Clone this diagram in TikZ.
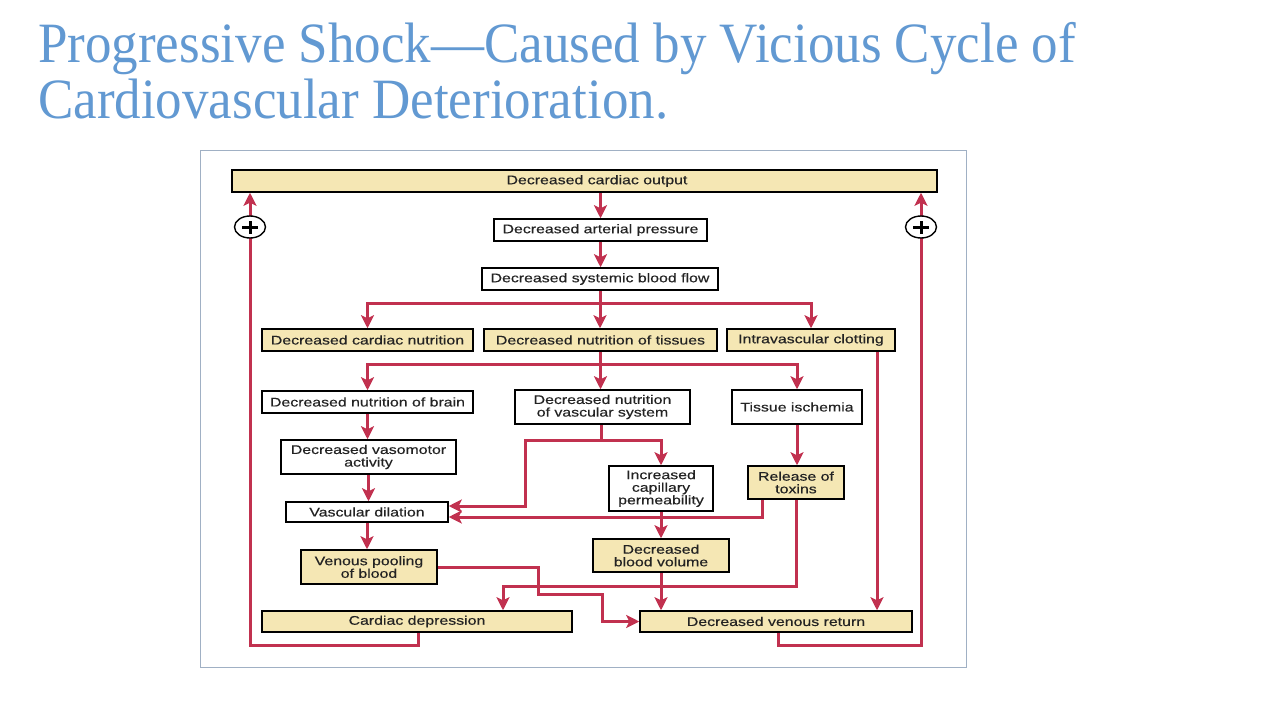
\documentclass[tikz,border=0pt]{standalone}
\usepackage{fontspec}
\usetikzlibrary{arrows.meta,shapes.geometric,backgrounds}
\newfontfamily\titlefont[FakeStretch=0.93]{Liberation Serif}
\newfontfamily\diagfont[FakeStretch=1.27,FakeBold=0.35]{Liberation Sans}
\definecolor{titleblue}{RGB}{98,153,210}
\definecolor{arrred}{RGB}{193,49,79}
\definecolor{boxtan}{RGB}{245,231,180}
\definecolor{framec}{RGB}{160,176,196}
\definecolor{inkc}{RGB}{35,35,35}
\begin{document}
\begin{tikzpicture}[x=1pt,y=-1pt,
 box/.style={draw=black, line width=1.5pt, fill=white, inner sep=0pt, align=center, text=inkc, font=\diagfont\fontsize{12.5}{12.6}\selectfont},
 tanbox/.style={box, fill=boxtan},
 link/.style={draw=arrred, line width=3pt},
 arr/.style={link, -{Stealth[length=13pt,width=13pt,inset=3pt]}},
 ttl/.style={anchor=base west, inner sep=0pt, text=titleblue, font=\titlefont\fontsize{57}{57}\selectfont},
 plusc/.style={ellipse, draw=black, line width=1.4pt, fill=white, minimum width=31pt, minimum height=22pt, inner sep=0pt},
 plusbar/.style={draw=black, line width=3pt},
]
\useasboundingbox (0,0) rectangle (1280,720);

% title
\node[ttl] (t1) at (38,62) {Progressive Shock—Caused by Vicious Cycle of};
\node[ttl] (t2) at (38,118) {Cardiovascular Deterioration.};

% frame
\draw[framec, line width=1pt] (200,150) rectangle (966,667);

% boxes
\node[tanbox, minimum width=705pt, minimum height=22pt] (co) at (584.5,181) {\hspace*{25pt}Decreased cardiac output};
\node[box, minimum width=213pt, minimum height=22pt] (ap) at (600.5,230) {Decreased arterial pressure};
\node[box, minimum width=236pt, minimum height=22pt] (sf) at (600,279) {Decreased systemic blood flow};
\node[tanbox, minimum width=211pt, minimum height=22pt] (cn) at (367.5,340) {Decreased cardiac nutrition};
\node[tanbox, minimum width=233pt, minimum height=22pt] (nt) at (600.5,340) {Decreased nutrition of tissues};
\node[tanbox, minimum width=168pt, minimum height=22pt] (ic) at (811,340) {Intravascular clotting};
\node[box, minimum width=211pt, minimum height=22pt] (nb) at (367.5,402) {Decreased nutrition of brain};
\node[box, minimum width=175pt, minimum height=34pt] (nv) at (602.5,407) {Decreased nutrition\\of vascular system};
\node[box, minimum width=130pt, minimum height=34pt] (ti) at (797,407) {Tissue ischemia};
\node[box, minimum width=175pt, minimum height=34pt] (va) at (368.5,457) {Decreased vasomotor\\activity};
\node[box, minimum width=104pt, minimum height=45pt] (cp) at (661,488.5) {Increased\\capillary\\permeability};
\node[tanbox, minimum width=96pt, minimum height=33pt] (rt) at (796,482.5) {Release of\\toxins};
\node[box, minimum width=162pt, minimum height=20pt] (vd) at (367,512) {Vascular dilation};
\node[tanbox, minimum width=136pt, minimum height=33pt] (bv) at (661,555.5) {Decreased\\blood volume};
\node[tanbox, minimum width=136pt, minimum height=34pt] (vp) at (369,567) {Venous pooling\\of blood};
\node[tanbox, minimum width=310pt, minimum height=21pt] (cd) at (417,621.5) {Cardiac depression};
\node[tanbox, minimum width=272pt, minimum height=21pt] (vr) at (776,621.5) {Decreased venous return};

% junction coordinates
\coordinate (j1) at (600.5,303);
\coordinate (j2) at (600.5,364);
\coordinate (j3) at (601,440);
\coordinate (k1) at (525,506);
\coordinate (k2) at (762,517);
\coordinate (k4) at (503,586);
\coordinate (k5) at (877,400);
\coordinate (m1) at (538,594);
\coordinate (m2) at (602,621.5);
\coordinate (l1) at (418,645);
\coordinate (l2) at (250,645);
\coordinate (r1) at (778,645);
\coordinate (r2) at (921,645);

\begin{scope}[on background layer]
\fill[white] (0,0) rectangle (1280,720);
\draw[arr] (ap.north |- co.south) -- (ap.north);
\draw[arr] (ap.south) -- (ap.south |- sf.north);
\draw[arr] (sf.south) -- (sf.south |- nt.north);
\draw[arr] (j1) -| (cn.north);
\draw[arr] (j1) -| (ic.north);
\draw[arr] (nt.south) -- (nt.south |- nv.north);
\draw[arr] (j2) -| (nb.north);
\draw[arr] (j2) -| (ti.north);
\draw[arr] (nb.south) -- (nb.south |- va.north);
\draw[arr] (va.south) -- (va.south |- vd.north);
\draw[arr] (vd.south) -- (vd.south |- vp.north);
\draw[arr] (nv.south -| j3) -- (j3) -| (cp.north);
\draw[arr] (j3) -| (k1) -- (k1 -| vd.east);
\draw[arr] (ti.south) -- (ti.south |- rt.north);
\draw[arr] (rt.south -| k2) -- (k2) -- (k2 -| vd.east);
\draw[arr] (cp.south) -- (bv.north);
\draw[arr] (rt.south) |- (k4) -- (k4 |- cd.north);
\draw[arr] (bv.south) -- (bv.south |- vr.north);
\draw[arr] (vp.east) -| (m1) -| (m2) -- (vr.west);
\draw[arr] (ic.south -| k5) -- (k5 |- vr.north);
\draw[arr] (cd.south -| l1) -- (l1) -- (l2) -- (l2 |- co.south);
\draw[arr] (vr.south -| r1) -- (r1) -- (r2) -- (r2 |- co.south);
\end{scope}

% positive feedback signs
\node[plusc] (pl) at (250,227) {};
\node[plusc] (pr) at (921,227) {};
\draw[plusbar] ([xshift=-8pt]pl.center) -- ([xshift=8pt]pl.center) ([yshift=-6.5pt]pl.center) -- ([yshift=6.5pt]pl.center);
\draw[plusbar] ([xshift=-8pt]pr.center) -- ([xshift=8pt]pr.center) ([yshift=-6.5pt]pr.center) -- ([yshift=6.5pt]pr.center);
\end{tikzpicture}
\end{document}
